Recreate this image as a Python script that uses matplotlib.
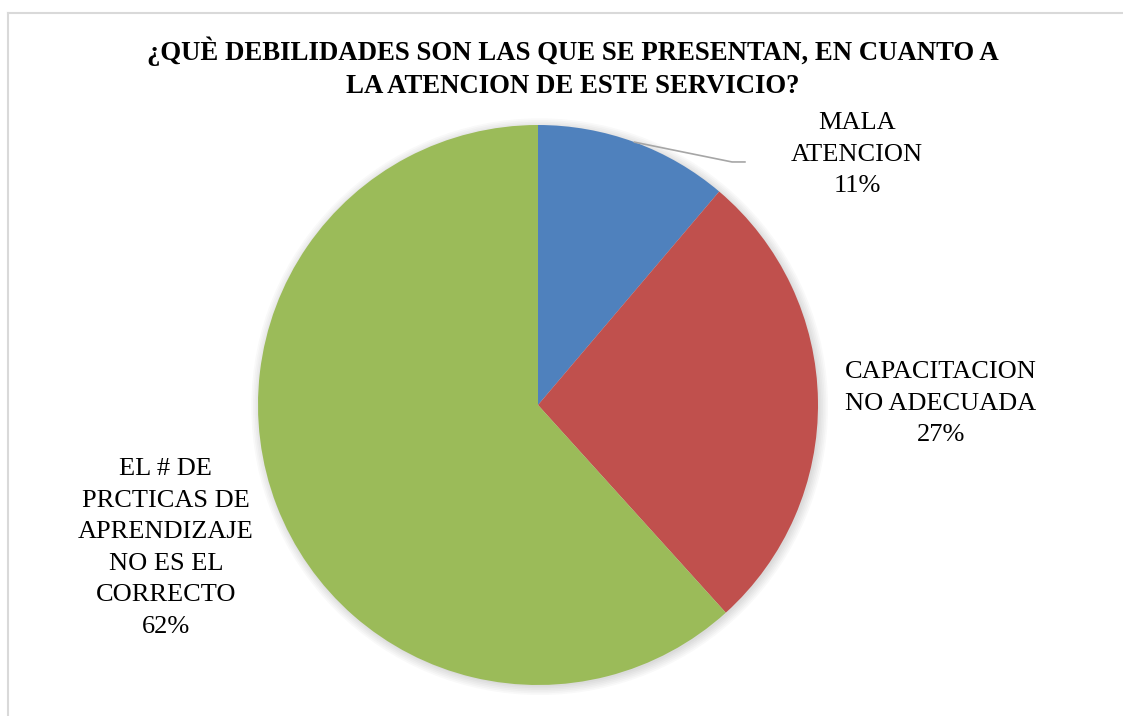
import numpy as np
import matplotlib.pyplot as plt
from matplotlib.patches import Circle

# datos del grafico (porcentajes estimados a partir de los angulos)
categorias = ['MALA\nATENCION', 'CAPACITACION\nNO ADECUADA',
              'EL # DE\nPRCTICAS DE\nAPRENDIZAJE\nNO ES EL\nCORRECTO']
porcentajes = [11.2, 27.1, 61.7]
colores = ['#4F81BD', '#C0504D', '#9BBB59']
titulo = '¿QUÈ DEBILIDADES SON LAS QUE SE PRESENTAN, EN CUANTO A\nLA ATENCION DE ESTE SERVICIO?'

plt.rcParams['font.family'] = ['Liberation Serif', 'DejaVu Serif']

fig = plt.figure(figsize=(11.23, 7.16), dpi=100)

# borde gris del area del grafico (solo arriba e izquierda visibles)
fig.add_artist(plt.Line2D([8/1123, 1], [1 - 13/716, 1 - 13/716], color='#d9d9d9', lw=1.5))
fig.add_artist(plt.Line2D([8/1123, 8/1123], [0, 1 - 13/716], color='#d9d9d9', lw=1.5))

ax = fig.add_axes([258/1123, 31/716, 560/1123, 560/716])

# sombra suave detras del pastel
for k in range(6):
    ax.add_patch(Circle((0.006, -0.006), 1 + k * 0.006, color='black',
                        alpha=0.025, lw=0, zorder=0, clip_on=False))

wedges, _ = ax.pie(porcentajes, colors=colores, startangle=90, counterclock=False,
                   radius=1, wedgeprops=dict(linewidth=0, zorder=2))
ax.set_xlim(-1, 1)
ax.set_ylim(-1, 1)
ax.set_aspect('equal')
ax.axis('off')

# etiquetas
pos_etiquetas = [(1.139, 0.893), (1.439, 0.004), (-1.329, -0.51)]
for cat, p, (lx, ly) in zip(categorias, porcentajes, pos_etiquetas):
    ax.text(lx, ly, f'{cat}\n{round(p)}%', ha='center', va='center', fontsize=19,
            linespacing=1.56, clip_on=False)

# linea guia de MALA ATENCION
w0 = wedges[0]
ang = np.deg2rad((w0.theta1 + w0.theta2) / 2)
ax.plot([np.cos(ang), 0.693, 0.739], [np.sin(ang), 0.868, 0.868],
        color='#a6a6a6', lw=1.2, clip_on=False, zorder=3)

fig.text(573/1123, 1 - 67.5/716, titulo, ha='center', va='center', fontsize=19.3,
         fontweight='bold', linespacing=1.4)

fig.savefig('out.png', dpi=100)
